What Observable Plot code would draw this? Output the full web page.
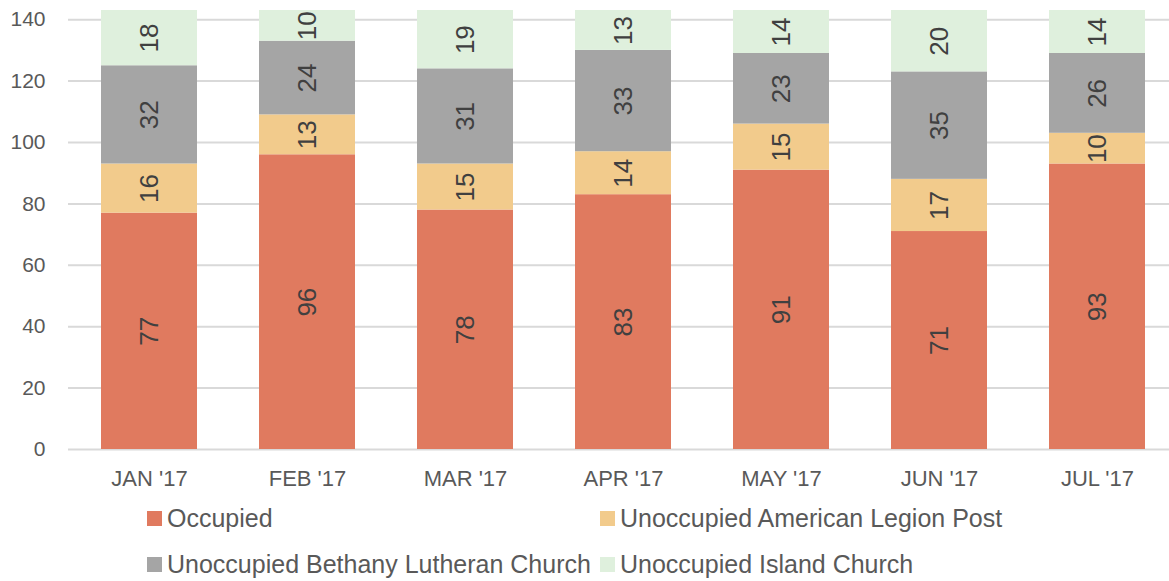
<!DOCTYPE html>
<html>
<head>
<meta charset="utf-8">
<script src="https://cdn.jsdelivr.net/npm/d3@7"></script>
<script src="https://cdn.jsdelivr.net/npm/@observablehq/plot@0.6"></script>
<style>
  html, body { margin: 0; padding: 0; background: #fff; }
  body { width: 1169px; height: 581px; overflow: hidden; font-family: "Liberation Sans", Arial, sans-serif; }
  #wrap { position: relative; width: 1169px; height: 581px; }
  #legend { position: absolute; left: 0; top: 0; width: 1169px; height: 581px; pointer-events: none; }
  .item { position: absolute; display: flex; align-items: center; font-size: 25px; color: #595959; white-space: nowrap; }
  .sw { width: 15px; height: 15px; margin-right: 5px; }
</style>
</head>
<body>
<div id="wrap">
  <div id="chart"></div>
  <div id="legend"></div>
</div>
<script>
const months = ["JAN '17", "FEB '17", "MAR '17", "APR '17", "MAY '17", "JUN '17", "JUL '17"];
const seriesNames = ["Occupied", "Unoccupied American Legion Post", "Unoccupied Bethany Lutheran Church", "Unoccupied Island Church"];
const occupied = [77, 96, 78, 83, 91, 71, 93];
const americanLegion = [16, 13, 15, 14, 15, 17, 10];
const bethany = [32, 24, 31, 33, 23, 35, 26];
const island = [18, 10, 19, 13, 14, 20, 14];
const colors = ["#E07A5F", "#F2CB8C", "#A5A5A5", "#DFF0DD"];
const yTicks = [0, 20, 40, 60, 80, 100, 120, 140];

const seriesValues = [occupied, americanLegion, bethany, island];
const data = [];
seriesNames.forEach((s, si) => {
  months.forEach((m, mi) => {
    data.push({month: m, series: s, value: seriesValues[si][mi]});
  });
});

const chart = Plot.plot({
  width: 1169,
  height: 500,
  marginLeft: 68,
  marginRight: 0,
  marginTop: 10,
  marginBottom: 51,
  style: {fontFamily: "'Liberation Sans', Arial, sans-serif", background: "#fff"},
  x: {domain: months, range: [68, 1178], paddingInner: 0.394, paddingOuter: 0.197, align: 0.5, label: null, tickSize: 0, tickPadding: 21},
  y: {domain: [0, 143], label: null, ticks: yTicks, tickSize: 0, tickPadding: 23},
  color: {domain: seriesNames, range: colors},
  marks: [
    Plot.ruleY(yTicks, {stroke: "#D9D9D9", strokeWidth: 2}),
    Plot.barY(data, Plot.stackY({x: "month", y: "value", fill: "series", z: "series", order: seriesNames})),
    Plot.text(data, Plot.stackY({x: "month", y: "value", z: "series", order: seriesNames, text: d => String(d.value), rotate: -90, fontSize: 26, fill: "#404040"})),
    Plot.axisX({tickSize: 0, tickPadding: 21, fontSize: 22, fill: "#595959", label: null}),
    Plot.axisY({ticks: yTicks, tickSize: 0, tickPadding: 23, fontSize: 21, fill: "#595959", label: null})
  ]
});
document.getElementById("chart").appendChild(chart);

const legendPos = [
  {left: 147, top: 518},
  {left: 600, top: 518},
  {left: 147, top: 564},
  {left: 600, top: 564}
];
const legend = document.getElementById("legend");
seriesNames.forEach((s, i) => {
  const it = document.createElement("div");
  it.className = "item";
  it.style.left = legendPos[i].left + "px";
  it.style.top = (legendPos[i].top - 15) + "px";
  it.style.height = "30px";
  const sw = document.createElement("div");
  sw.className = "sw";
  sw.style.background = colors[i];
  const tx = document.createElement("span");
  tx.textContent = s;
  it.appendChild(sw);
  it.appendChild(tx);
  legend.appendChild(it);
});
</script>
</body>
</html>
